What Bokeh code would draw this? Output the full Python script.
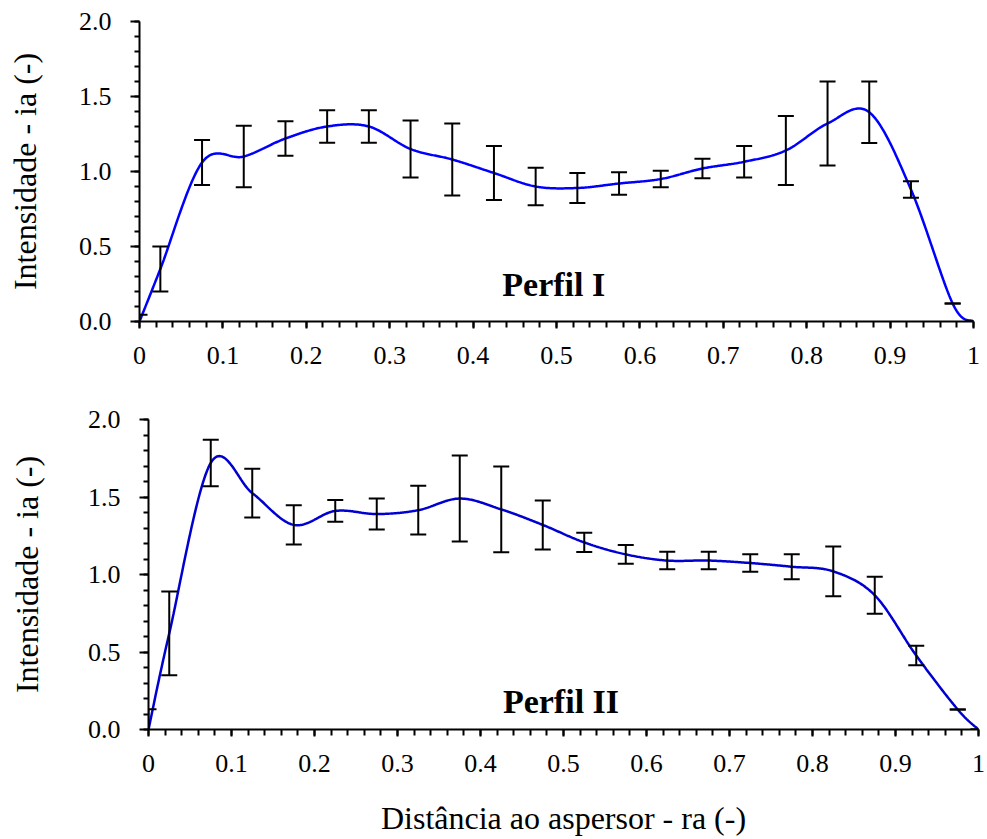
import numpy as np
from bokeh.plotting import figure
from bokeh.models import Range1d, FixedTicker, NumeralTickFormatter, CustomJSTickFormatter, Label
from bokeh.embed import file_html
from bokeh.resources import INLINE

# ---------------- data ----------------
dist = [0.0, 0.025, 0.075, 0.125, 0.175, 0.225, 0.275, 0.325, 0.375, 0.425, 0.475,
        0.525, 0.575, 0.625, 0.675, 0.725, 0.775, 0.825, 0.875, 0.925, 0.975, 1.0]

mean_1 = [0.0, 0.35, 1.06, 1.10, 1.22, 1.30, 1.30, 1.15, 1.08, 0.99, 0.90,
          0.89, 0.92, 0.95, 1.02, 1.065, 1.14, 1.32, 1.395, 0.88, 0.12, 0.0]
sd_1 = [0.045, 0.15, 0.15, 0.205, 0.115, 0.108, 0.108, 0.19, 0.24, 0.18, 0.125,
        0.10, 0.075, 0.055, 0.065, 0.105, 0.23, 0.28, 0.205, 0.055, 0.0, 0.0]

mean_2 = [0.0, 0.62, 1.72, 1.525, 1.32, 1.41, 1.39, 1.415, 1.49, 1.42, 1.32,
          1.207, 1.13, 1.09, 1.09, 1.074, 1.05, 1.02, 0.866, 0.477, 0.129, 0.0]
sd_2 = [0.13, 0.27, 0.15, 0.157, 0.127, 0.07, 0.10, 0.157, 0.277, 0.277, 0.158,
        0.062, 0.06, 0.056, 0.056, 0.056, 0.08, 0.16, 0.12, 0.063, 0.0, 0.0]

x_ticks = [0, 0.1, 0.2, 0.3, 0.4, 0.5, 0.6, 0.7, 0.8, 0.9, 1]
y_ticks = [0, 0.5, 1.0, 1.5, 2.0]

x_label = "Distância ao aspersor - ra (-)"
y_label = "Intensidade - ia (-)"
titles = ["Perfil I", "Perfil II"]

FONT = "Liberation Serif"


def excel_smooth(xs, ys, n=40):
    """Excel-like smoothed line (cubic Bezier, Catmull-Rom style control points)."""
    pts = np.column_stack([np.asarray(xs, float), np.asarray(ys, float)])
    N = len(pts)
    t = np.linspace(0, 1, n)[:, None]
    segs = []
    for i in range(N - 1):
        p0 = pts[i - 1] if i > 0 else pts[i]
        p1 = pts[i]
        p2 = pts[i + 1]
        p3 = pts[i + 2] if i + 2 < N else pts[i + 1]
        c1 = p1 + (p2 - p0) / 6.0
        c2 = p2 - (p3 - p1) / 6.0
        b = ((1 - t) ** 3) * p1 + 3 * ((1 - t) ** 2) * t * c1 + 3 * (1 - t) * t ** 2 * c2 + t ** 3 * p2
        segs.append(b if i == 0 else b[1:])
    out = np.vstack(segs)
    return out[:, 0], out[:, 1]


def make_panel(mean, sd, title, color, width, height, left, right, top, bottom,
               show_xlabel, ylab_standoff, title_pos):
    p = figure(width=width, height=height, output_backend="svg", toolbar_location=None,
               x_range=Range1d(0, 1), y_range=Range1d(0, 2),
               min_border_left=left, min_border_right=right,
               min_border_top=top, min_border_bottom=bottom)
    p.outline_line_color = None
    p.grid.visible = False
    p.background_fill_color = "white"
    p.border_fill_color = "white"

    # smoothed line
    sx, sy = excel_smooth(dist, mean)
    p.line(sx, sy, line_color=color, line_width=2.5)

    # error bars
    m = np.asarray(mean)
    s = np.asarray(sd)
    lo = m - s
    hi = m + s
    p.segment(x0=dist, y0=lo, x1=dist, y1=hi, line_color="black", line_width=2)
    p.scatter(x=dist, y=hi, marker="dash", size=16, line_color="black", line_width=2)
    p.scatter(x=dist, y=lo, marker="dash", size=16, line_color="black", line_width=2)

    # axes
    xa = p.xaxis[0]
    xa.ticker = FixedTicker(ticks=x_ticks,
                            minor_ticks=[round(i * 0.02, 2) for i in range(51)])
    xa.formatter = CustomJSTickFormatter(code="return String(Math.round(tick*10)/10);")
    xa.major_tick_in = 0
    xa.major_tick_out = 7
    xa.minor_tick_in = 0
    xa.minor_tick_out = 6
    xa.axis_line_width = 2
    xa.major_tick_line_width = 2
    xa.minor_tick_line_width = 2
    xa.axis_line_color = "black"
    xa.major_tick_line_color = "black"
    xa.minor_tick_line_color = "black"
    xa.major_label_text_font = FONT
    xa.major_label_text_font_size = "26px"
    xa.major_label_text_color = "black"
    xa.major_label_standoff = 18
    if show_xlabel:
        xa.axis_label = x_label
        xa.axis_label_text_font = FONT
        xa.axis_label_text_font_size = "32px"
        xa.axis_label_text_font_style = "normal"
        xa.axis_label_text_color = "black"
        xa.axis_label_standoff = 25

    ya = p.yaxis[0]
    ya.ticker = FixedTicker(ticks=y_ticks,
                            minor_ticks=[round(i * 0.1, 1) for i in range(21)])
    ya.formatter = NumeralTickFormatter(format="0.0")
    ya.major_tick_in = 0
    ya.major_tick_out = 9
    ya.minor_tick_in = 0
    ya.minor_tick_out = 5
    ya.axis_line_width = 2
    ya.major_tick_line_width = 2
    ya.minor_tick_line_width = 2
    ya.axis_line_color = "black"
    ya.major_tick_line_color = "black"
    ya.minor_tick_line_color = "black"
    ya.major_label_text_font = FONT
    ya.major_label_text_font_size = "26px"
    ya.major_label_text_color = "black"
    ya.major_label_standoff = 19
    ya.axis_label = y_label
    ya.axis_label_text_font = FONT
    ya.axis_label_text_font_size = "32px"
    ya.axis_label_text_font_style = "normal"
    ya.axis_label_text_color = "black"
    ya.axis_label_standoff = ylab_standoff

    lab = Label(x=title_pos[0], y=title_pos[1], text=title, text_font=FONT,
                text_font_size="34px", text_font_style="bold", text_color="black",
                text_baseline="alphabetic", text_align="left")
    p.add_layout(lab)
    return p


p1 = make_panel(mean_1, sd_1, titles[0], "#0000ff", width=987, height=381,
                left=139, right=14, top=21, bottom=60, show_xlabel=False,
                ylab_standoff=33, title_pos=(0.435, 0.247))
p2 = make_panel(mean_2, sd_2, titles[1], "#0000d0", width=987, height=458,
                left=148, right=9, top=38, bottom=110, show_xlabel=True,
                ylab_standoff=40, title_pos=(0.427, 0.18))

with open("out.html", "w") as f:
    f.write(file_html([p1, p2], INLINE))
